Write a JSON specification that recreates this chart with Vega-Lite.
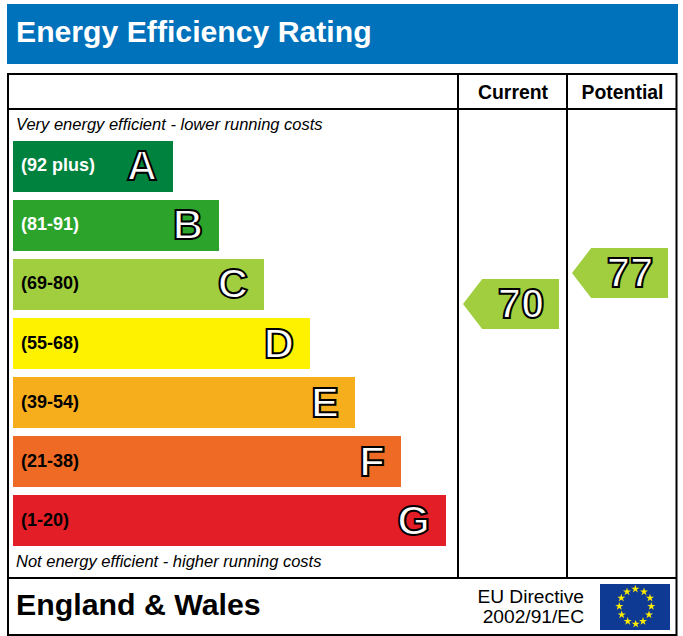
{"$schema":"https://vega.github.io/schema/vega-lite/v6.json","width":683,"height":636,"padding":0,"autosize":{"type":"none"},"background":"white","config":{"view":{"stroke":null},"text":{"font":"Liberation Sans"}},"resolve":{"scale":{"x":"independent","y":"independent","color":"independent"}},"layer":[
{"data":{"values":[{"part":"title band","left":7,"right":678,"top":4,"bottom":64}]},"mark":{"type":"rect","color":"#0071BB"},"encoding":{"x":{"field":"left","type":"quantitative","axis":null,"scale":{"domain":[0,683],"zero":false,"nice":false}},"x2":{"field":"right"},"y":{"field":"top","type":"quantitative","axis":null,"scale":{"domain":[0,636],"reverse":true,"zero":false,"nice":false}},"y2":{"field":"bottom"}}},
{"data":{"values":[{"part":"frame","left":8,"right":676.5,"top":74,"bottom":635}]},"mark":{"type":"rect","fill":null,"stroke":"black","strokeWidth":2},"encoding":{"x":{"field":"left","type":"quantitative","axis":null,"scale":{"domain":[0,683],"zero":false,"nice":false}},"x2":{"field":"right"},"y":{"field":"top","type":"quantitative","axis":null,"scale":{"domain":[0,636],"reverse":true,"zero":false,"nice":false}},"y2":{"field":"bottom"}}},
{"data":{"values":[{"part":"header rule","left":8,"right":676.5,"top":109,"bottom":109},{"part":"footer rule","left":8,"right":676.5,"top":578,"bottom":578},{"part":"column rule","left":458,"right":458,"top":74,"bottom":578},{"part":"column rule","left":567,"right":567,"top":74,"bottom":578}]},"mark":{"type":"rule","color":"black","strokeWidth":2},"encoding":{"x":{"field":"left","type":"quantitative","axis":null,"scale":{"domain":[0,683],"zero":false,"nice":false}},"x2":{"field":"right"},"y":{"field":"top","type":"quantitative","axis":null,"scale":{"domain":[0,636],"reverse":true,"zero":false,"nice":false}},"y2":{"field":"bottom"}}},
{"data":{"name":"bands","values":[{"rating":"A","range":"(92 plus)","barEnd":173},{"rating":"B","range":"(81-91)","barEnd":219},{"rating":"C","range":"(69-80)","barEnd":264},{"rating":"D","range":"(55-68)","barEnd":310},{"rating":"E","range":"(39-54)","barEnd":355},{"rating":"F","range":"(21-38)","barEnd":401},{"rating":"G","range":"(1-20)","barEnd":446}]},"mark":{"type":"bar"},"encoding":{"x":{"field":"barEnd","type":"quantitative","axis":null,"scale":{"domain":[0,683],"zero":false,"nice":false}},"x2":{"datum":13},"y":{"field":"rating","type":"nominal","axis":null,"scale":{"type":"band","domain":["A","B","C","D","E","F","G"],"range":[141,546],"paddingInner":0.1356,"paddingOuter":0}},"color":{"field":"rating","type":"nominal","legend":null,"scale":{"domain":["A","B","C","D","E","F","G"],"range":["#00823F","#2CA42B","#A0CE3E","#FFF200","#F7AE1D","#EF6A24","#E31E26"]}}}},
{"data":{"name":"bands"},"mark":{"type":"text","align":"left","baseline":"middle","fontWeight":"bold","fontSize":18,"dy":0},"encoding":{"x":{"datum":21,"type":"quantitative","axis":null,"scale":{"domain":[0,683],"zero":false,"nice":false}},"y":{"field":"rating","type":"nominal","axis":null,"scale":{"type":"band","domain":["A","B","C","D","E","F","G"],"range":[141,546],"paddingInner":0.1356,"paddingOuter":0}},"text":{"field":"range"},"color":{"field":"rating","type":"nominal","legend":null,"scale":{"domain":["A","B","C","D","E","F","G"],"range":["#FFFFFF","#FFFFFF","#000000","#000000","#000000","#000000","#000000"]}}}},
{"data":{"name":"bands"},"mark":{"type":"text","align":"right","baseline":"middle","fontWeight":"bold","fontSize":42,"fill":"white","stroke":"black","strokeWidth":2,"dx":-16,"dy":1},"encoding":{"x":{"field":"barEnd","type":"quantitative","axis":null,"scale":{"domain":[0,683],"zero":false,"nice":false}},"y":{"field":"rating","type":"nominal","axis":null,"scale":{"type":"band","domain":["A","B","C","D","E","F","G"],"range":[141,546],"paddingInner":0.1356,"paddingOuter":0}},"text":{"field":"rating"}}},
{"data":{"name":"scores","values":[{"column":"Current","score":70},{"column":"Potential","score":77}]},"mark":{"type":"point","shape":"M-1,0L-0.6,-0.52L1,-0.52L1,0.52L-0.6,0.52Z","filled":true,"size":9216,"opacity":1,"color":"#A0CE3E"},"encoding":{"x":{"field":"column","type":"nominal","axis":null,"scale":{"type":"band","domain":["Current","Potential"],"range":[456.5,674.5],"padding":0}},"y":{"field":"score","type":"quantitative","axis":null,"scale":{"domain":[70,77],"range":[304,273],"zero":false,"nice":false}}}},
{"data":{"name":"scores"},"mark":{"type":"text","align":"center","baseline":"middle","fontWeight":"bold","fontSize":42,"fill":"white","stroke":"black","strokeWidth":2,"dx":10,"dy":1},"encoding":{"x":{"field":"column","type":"nominal","axis":null,"scale":{"type":"band","domain":["Current","Potential"],"range":[456.5,674.5],"padding":0}},"y":{"field":"score","type":"quantitative","axis":null,"scale":{"domain":[70,77],"range":[304,273],"zero":false,"nice":false}},"text":{"field":"score","type":"quantitative"}}},
{"data":{"values":[{"label":"Energy Efficiency Rating","left":16,"base":42}]},"mark":{"type":"text","align":"left","baseline":"alphabetic","fontWeight":"bold","fontSize":30.2,"color":"white"},"encoding":{"x":{"field":"left","type":"quantitative","axis":null,"scale":{"domain":[0,683],"zero":false,"nice":false}},"y":{"field":"base","type":"quantitative","axis":null,"scale":{"domain":[0,636],"reverse":true,"zero":false,"nice":false}},"text":{"field":"label"}}},
{"data":{"values":[{"label":"Very energy efficient - lower running costs","left":16,"base":130},{"label":"Not energy efficient - higher running costs","left":16,"base":567}]},"mark":{"type":"text","align":"left","baseline":"alphabetic","fontStyle":"italic","fontSize":16.5,"color":"black"},"encoding":{"x":{"field":"left","type":"quantitative","axis":null,"scale":{"domain":[0,683],"zero":false,"nice":false}},"y":{"field":"base","type":"quantitative","axis":null,"scale":{"domain":[0,636],"reverse":true,"zero":false,"nice":false}},"text":{"field":"label"}}},
{"data":{"values":[{"label":"Current","left":513,"base":99},{"label":"Potential","left":622.5,"base":99}]},"mark":{"type":"text","align":"center","baseline":"alphabetic","fontWeight":"bold","fontSize":19.4,"color":"black"},"encoding":{"x":{"field":"left","type":"quantitative","axis":null,"scale":{"domain":[0,683],"zero":false,"nice":false}},"y":{"field":"base","type":"quantitative","axis":null,"scale":{"domain":[0,636],"reverse":true,"zero":false,"nice":false}},"text":{"field":"label"}}},
{"data":{"values":[{"label":"England & Wales","left":16,"base":615}]},"mark":{"type":"text","align":"left","baseline":"alphabetic","fontWeight":"bold","fontSize":30.3,"color":"black"},"encoding":{"x":{"field":"left","type":"quantitative","axis":null,"scale":{"domain":[0,683],"zero":false,"nice":false}},"y":{"field":"base","type":"quantitative","axis":null,"scale":{"domain":[0,636],"reverse":true,"zero":false,"nice":false}},"text":{"field":"label"}}},
{"data":{"values":[{"label":"EU Directive","left":584,"base":603},{"label":"2002/91/EC","left":584,"base":623}]},"mark":{"type":"text","align":"right","baseline":"alphabetic","fontSize":19.2,"color":"black"},"encoding":{"x":{"field":"left","type":"quantitative","axis":null,"scale":{"domain":[0,683],"zero":false,"nice":false}},"y":{"field":"base","type":"quantitative","axis":null,"scale":{"domain":[0,636],"reverse":true,"zero":false,"nice":false}},"text":{"field":"label"}}},
{"data":{"values":[{"part":"EU flag","left":600,"right":670,"top":584,"bottom":630}]},"mark":{"type":"rect","color":"#0F3A93"},"encoding":{"x":{"field":"left","type":"quantitative","axis":null,"scale":{"domain":[0,683],"zero":false,"nice":false}},"x2":{"field":"right"},"y":{"field":"top","type":"quantitative","axis":null,"scale":{"domain":[0,636],"reverse":true,"zero":false,"nice":false}},"y2":{"field":"bottom"}}},
{"data":{"values":[{"star":1,"left":635.3,"top":589},{"star":2,"left":644,"top":591.7},{"star":3,"left":650,"top":598},{"star":4,"left":651.3,"top":606.3},{"star":5,"left":649,"top":614.7},{"star":6,"left":643,"top":621.3},{"star":7,"left":635.7,"top":624},{"star":8,"left":627.7,"top":621.3},{"star":9,"left":621.7,"top":614.7},{"star":10,"left":619.3,"top":606.3},{"star":11,"left":621.3,"top":598},{"star":12,"left":627,"top":591.7}]},"mark":{"type":"point","shape":"M0,-1L.225,-.309L.951,-.309L.363,.118L.588,.809L0,.382L-.588,.809L-.363,.118L-.951,-.309L-.225,-.309Z","filled":true,"opacity":1,"size":72,"color":"#FFED00"},"encoding":{"x":{"field":"left","type":"quantitative","axis":null,"scale":{"domain":[0,683],"zero":false,"nice":false}},"y":{"field":"top","type":"quantitative","axis":null,"scale":{"domain":[0,636],"reverse":true,"zero":false,"nice":false}}}}
]}
